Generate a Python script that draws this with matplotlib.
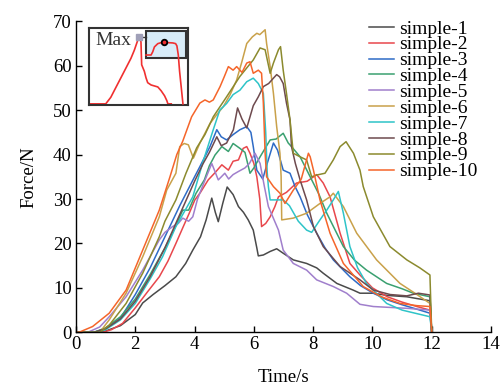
import numpy as np
import matplotlib.pyplot as plt
from matplotlib.patches import Rectangle

plt.rcParams['font.family'] = ['Liberation Serif', 'DejaVu Serif']

# ---- data ----
labels = ['simple-1', 'simple-2', 'simple-3', 'simple-4', 'simple-5',
          'simple-6', 'simple-7', 'simple-8', 'simple-9', 'simple-10']
colors = ['#4a4a4a', '#e8474c', '#2e6bc6', '#3aa070', '#a07fcc',
          '#c9a14a', '#2ec4c8', '#6e4a4e', '#8b8a2e', '#f5652a']

t1 = [0, 0.6, 1.0, 1.5, 2.0, 2.25, 2.6, 3.0, 3.37, 3.7, 3.94, 4.2, 4.39, 4.58, 4.7, 4.8, 4.95, 5.1, 5.3,
      5.48, 5.65, 5.81, 5.98, 6.1, 6.15, 6.32, 6.55, 6.77, 6.99, 7.33, 7.78, 8.12, 8.34, 8.8, 9.35, 9.58,
      10.03, 10.5, 11.16, 11.5, 11.94, 12.0]
f1 = [0, 0, 0.3, 1.5, 4.0, 6.6, 8.5, 10.5, 12.5, 15.5, 18.5, 21.5, 25.3, 30.2, 27, 24.9, 29, 32.7, 31,
      28.3, 27, 25.3, 23, 19, 17.2, 17.4, 18.2, 18.8, 17.8, 16.3, 15.5, 14.5, 13.3, 11, 9.5, 8.8,
      8.8, 8.3, 8.0, 7.6, 7.1, 0]

t2 = [0, 0.9, 1.2, 1.57, 2.0, 2.4, 2.81, 3.1, 3.37, 3.6, 3.82, 4.01, 4.2, 4.46, 4.7, 4.92, 5.14, 5.3, 5.48,
      5.64, 5.76, 5.87, 6.0, 6.1, 6.2, 6.26, 6.4, 6.55, 6.71, 6.83, 7.1, 7.44, 7.8, 8.12, 8.34, 8.57, 8.91,
      9.24, 9.58, 10.0, 10.5, 11.0, 11.5, 11.94, 12.0]
f2 = [0, 0, 0.6, 2.0, 5.5, 9.0, 12.5, 16, 20, 23.5, 26.8, 29.8, 31.5, 34.3, 36, 37.7, 36.5, 38.5, 38.8,
      41.4, 41.8, 40.3, 38, 35, 30, 23.8, 24.5, 26, 28.3, 30.5, 31.5, 33.6, 34, 35.5, 33.6, 30.5, 22.3,
      15.5, 12.9, 10.0, 8.0, 6.8, 5.8, 5.0, 0]

t3 = [0, 0.6, 1.0, 1.5, 2.0, 2.5, 3.0, 3.5, 4.0, 4.18, 4.52, 4.75, 4.9, 5.08, 5.3, 5.53, 5.76, 5.9, 5.98,
      6.1, 6.3, 6.45, 6.66, 6.8, 6.99, 7.22, 7.39, 7.56, 7.8, 8.12, 8.4, 8.68, 9.24, 9.6, 10.03, 10.5,
      11.0, 11.5, 11.94, 12.0]
f3 = [0, 0, 0.8, 3.2, 8.5, 14.5, 21.5, 28.5, 35, 37.3, 41.8, 45.6, 44, 43.3, 44.5, 45.6, 46.3, 45, 41.8,
      36.5, 34.5, 38, 42.6, 41, 36.5, 35.8, 32.8, 30.5, 26.5, 22.3, 19, 16.3, 12.5, 10.5, 8.8, 7.3,
      6.2, 5.2, 4.3, 0]

t4 = [0, 0.6, 1.0, 1.5, 2.0, 2.5, 3.0, 3.37, 3.6, 3.8, 4.05, 4.33, 4.5, 4.69, 4.92, 5.14, 5.3, 5.53, 5.7,
      5.87, 6.0, 6.21, 6.55, 6.75, 6.99, 7.16, 7.27, 7.56, 7.9, 8.2, 8.46, 9.02, 9.4, 9.8, 10.48, 11.0,
      11.38, 11.94, 12.0]
f4 = [0, 0, 1.0, 3.5, 7.5, 13, 19, 24, 27.5, 27.5, 31.3, 34.3, 37.5, 39.9, 41.8, 40.7, 42.5, 41.4, 40.5,
      35.8, 37, 39.5, 43.3, 43.5, 44.8, 42.6, 41.8, 39.5, 35, 31, 26.8, 19.3, 16.2, 14, 11, 9.8,
      8.8, 8.0, 0]

t5 = [0, 0.4, 0.8, 1.12, 1.69, 2.25, 2.81, 3.0, 3.26, 3.45, 3.6, 3.8, 3.94, 4.1, 4.33, 4.58, 4.8, 5.02,
      5.15, 5.3, 5.48, 5.7, 5.85, 6.04, 6.21, 6.35, 6.49, 6.83, 6.99, 7.33, 7.78, 8.12, 8.68, 9.13, 9.58,
      10.03, 11.16, 11.94, 12.0]
f5 = [0, 0, 1.2, 3.5, 8, 14, 20.8, 22.5, 23.8, 24.5, 25.7, 25, 26, 30, 33.9, 38, 34.3, 35.8,
      34.5, 35.5, 36.2, 37, 38, 40.3, 38, 33, 28.3, 23, 18.5, 15.5, 14, 11.8, 10.3, 8.8, 6.3,
      5.8, 5.4, 5.0, 0]

t6 = [0, 0.8, 1.12, 1.69, 2.25, 2.81, 3.06, 3.37, 3.5, 3.65, 3.79, 3.96, 4.18, 4.52, 4.75, 4.97, 5.2, 5.42,
      5.6, 5.76, 5.95, 6.1, 6.2, 6.38, 6.43, 6.55, 6.66, 6.77, 6.88, 6.92, 6.94, 7.33, 7.78, 8.23, 8.57,
      8.68, 9.02, 9.47, 10.14, 10.93, 11.5, 11.94, 12.0]
f6 = [0, 0, 2.8, 8.8, 17, 26, 32, 35.8, 41.8, 42.5, 42.2, 39.2, 42.6, 47, 49, 50.8, 53.5, 56.8,
      61, 65, 66.5, 67.3, 67, 68.1, 65, 59.8, 53.8, 46.3, 40.3, 35, 25.3, 25.7, 26.8, 29, 30.5,
      31.3, 28.3, 22.3, 16.3, 11, 8.5, 6.5, 0]

t7 = [0, 0.7, 1.0, 1.5, 2.0, 2.5, 2.92, 3.37, 3.94, 4.29, 4.63, 4.85, 5.08, 5.3, 5.53, 5.76, 5.98, 6.15,
      6.32, 6.4, 6.45, 6.49, 6.55, 6.99, 7.2, 7.5, 7.78, 7.95, 8.23, 8.46, 8.68, 8.85, 9.02, 9.24, 9.5,
      9.8, 10.48, 11.0, 11.5, 11.94, 12.0]
f7 = [0, 0, 0.6, 2.8, 6.5, 12, 17, 23.8, 30.5, 38.5, 45.6, 50, 51.5, 53.5, 54.5, 56.4, 57.2, 56,
      53.8, 45, 36, 32.8, 29.8, 29.8, 28.5, 25, 23, 22.5, 25.3, 27.5, 29.8, 31.7, 26.8, 19.3, 14.5,
      11, 6.5, 5.0, 4.2, 3.5, 0]

t8 = [0, 0.6, 1.0, 1.5, 2.0, 2.5, 3.0, 3.5, 4.0, 4.29, 4.5, 4.75, 4.9, 5.08, 5.31, 5.45, 5.6, 5.76, 5.98,
      6.15, 6.32, 6.5, 6.66, 6.77, 6.87, 6.99, 7.1, 7.22, 7.27, 7.4, 7.56, 7.78, 8.01, 8.34, 8.91, 9.58,
      10.03, 10.6, 11.16, 11.55, 11.94, 12.0]
f8 = [0, 0, 0.8, 3.0, 7.0, 12.5, 19, 26.5, 34, 38, 40.5, 44, 42, 42.6, 45.6, 50.5, 48, 46, 51,
      53, 55.3, 56, 57.2, 58, 57.5, 56, 51.6, 47.8, 41.8, 38, 34.3, 29.8, 23.8, 19.3, 14.8, 11.8,
      9.5, 8.5, 8.2, 8.8, 8.4, 0]

t9 = [0, 0.8, 1.12, 1.69, 2.25, 2.81, 3.0, 3.37, 3.71, 4.07, 4.35, 4.63, 5.08, 5.53, 5.76, 5.98, 6.21,
      6.38, 6.55, 6.66, 6.83, 6.9, 6.99, 7.1, 7.22, 7.33, 7.56, 7.78, 7.95, 8.12, 8.4, 8.68, 8.91, 9.11,
      9.36, 9.58, 9.69, 10.03, 10.59, 11.16, 11.6, 11.94, 12.0]
f9 = [0, 0, 1.6, 6.5, 13.3, 21.5, 25, 29.8, 35.8, 41.5, 44.5, 48.5, 53, 57.6, 59.5, 61.3, 64,
      63.6, 58.3, 60.6, 63.6, 64.3, 59, 53.8, 47.8, 40.3, 39.5, 38.8, 35, 35.4, 35.8, 38.8, 41.8, 42.9,
      40.3, 36.5, 32.8, 26, 19.3, 16.3, 14.5, 12.9, 0]

t10 = [0, 0.1, 0.56, 1.12, 1.69, 2.25, 2.81, 3.17, 3.4, 3.6, 3.9, 4.18, 4.35, 4.5, 4.63, 4.86, 5.0, 5.14,
       5.3, 5.42, 5.6, 5.76, 5.87, 5.98, 6.15, 6.26, 6.32, 6.38, 6.43, 6.66, 6.88, 7.05, 7.33, 7.6, 7.84,
       7.9, 8.01, 8.23, 8.57, 9.02, 9.69, 10.3, 10.93, 11.5, 11.94, 12.0]
f10 = [0, 0, 1.3, 4.3, 9.5, 18.5, 27.5, 35, 40, 43, 48.5, 51.6, 52.3, 51.8, 52.3, 55.3, 57.5, 59.8,
       59, 59.8, 58.5, 60.6, 60.9, 58.3, 59, 58.3, 51.6, 40.3, 35, 32.8, 31.3, 29, 32, 34.5, 40.3,
       39.5, 36.5, 29.8, 22.3, 15.5, 10.3, 8.0, 6.5, 6.0, 5.8, 0]

times = [t1, t2, t3, t4, t5, t6, t7, t8, t9, t10]
forces = [f1, f2, f3, f4, f5, f6, f7, f8, f9, f10]

# inset sketch (arbitrary units 0-100)
inset_x = [0, 16.9, 22, 27.1, 32.2, 37.3, 42.4, 45.8, 49.2, 51.5, 52.5, 53.2, 55.9, 57.6, 59.3, 62.7,
           66.1, 69.5, 72.9, 76.3, 78.6, 79.7, 83.1]
inset_y = [0, 0, 8.6, 21.5, 34.3, 47.2, 60.1, 70.8, 83.7, 87.1, 81.5, 51.5, 42.9, 34.3, 27.9, 24.9,
           23.6, 22.3, 17.2, 10.7, 4.3, 0, 0]
zoom_x = [57.6, 62.7, 64.4, 66.1, 69.5, 72.9, 75.6, 79.7, 84.7, 87.5, 88.8, 90.2, 91.5, 93.2, 94.9]
zoom_y = [64.4, 64.4, 68.7, 75.1, 79.4, 80.7, 81.5, 80.7, 80.3, 79.4, 76.4, 64.4, 42.9, 21.5, 0]
max_pt = (50.8, 88)
zoom_pt = (75.6, 81.5)

# ---- figure ----
fig = plt.figure(figsize=(5.04, 3.85), dpi=100)
ax = fig.add_axes([76 / 504, 1 - 332.3 / 385, 415 / 504, 311 / 385])

for t, f, c, lab in zip(times, forces, colors, labels):
    ax.plot(t, f, color=c, lw=1.1, label=lab)

ax.set_xlim(0, 14)
ax.set_ylim(0, 70)
ax.set_xticks(range(0, 15, 2))
ax.set_yticks(range(0, 71, 10))
ax.spines['top'].set_visible(False)
ax.spines['right'].set_visible(False)
for s in ['left', 'bottom']:
    ax.spines[s].set_linewidth(1.0)
ax.tick_params(direction='in', length=4.5, width=1.0, labelsize=13.5, pad=3)
ax.set_xlabel('Time/s', fontsize=13.5, labelpad=11)
ax.set_ylabel('Force/N', fontsize=13.5, labelpad=11)

fig.legend(loc='upper left', bbox_to_anchor=(369 / 504, 1 - 20 / 385), frameon=False,
           fontsize=14, handlelength=1.3, handletextpad=0.26, labelspacing=-0.09,
           borderpad=0, borderaxespad=0)

# ---- inset ----
axi = fig.add_axes([89 / 504, 1 - 105 / 385, 99 / 504, 77 / 385])
axi.set_xlim(0, 100)
axi.set_ylim(-1.5, 100)
axi.set_xticks([])
axi.set_yticks([])
for s in axi.spines.values():
    s.set_linewidth(1.5)
    s.set_color('#333333')
axi.plot(inset_x, inset_y, color='#f03030', lw=1.2, zorder=2)
axi.add_patch(Rectangle((57.6, 60.1), 40.7, 35.6, facecolor='#d8ecf8', edgecolor='#333333',
                        lw=1.5, zorder=3))
axi.plot(zoom_x, zoom_y, color='#f03030', lw=1.2, zorder=4)
axi.plot([max_pt[0], 57.6], [max_pt[1], max_pt[1]], color='#333333', lw=1.0, zorder=3)
axi.plot(*max_pt, marker='s', ms=4.5, color='#a0a0b8', zorder=5)
axi.plot(*zoom_pt, marker='o', ms=4, mfc='#f03030', mec='black', mew=1.3, zorder=5)
axi.text(6, 83, 'Max', fontsize=14, va='center', ha='left', color='#333333')

fig.savefig('out.png', dpi=100)
